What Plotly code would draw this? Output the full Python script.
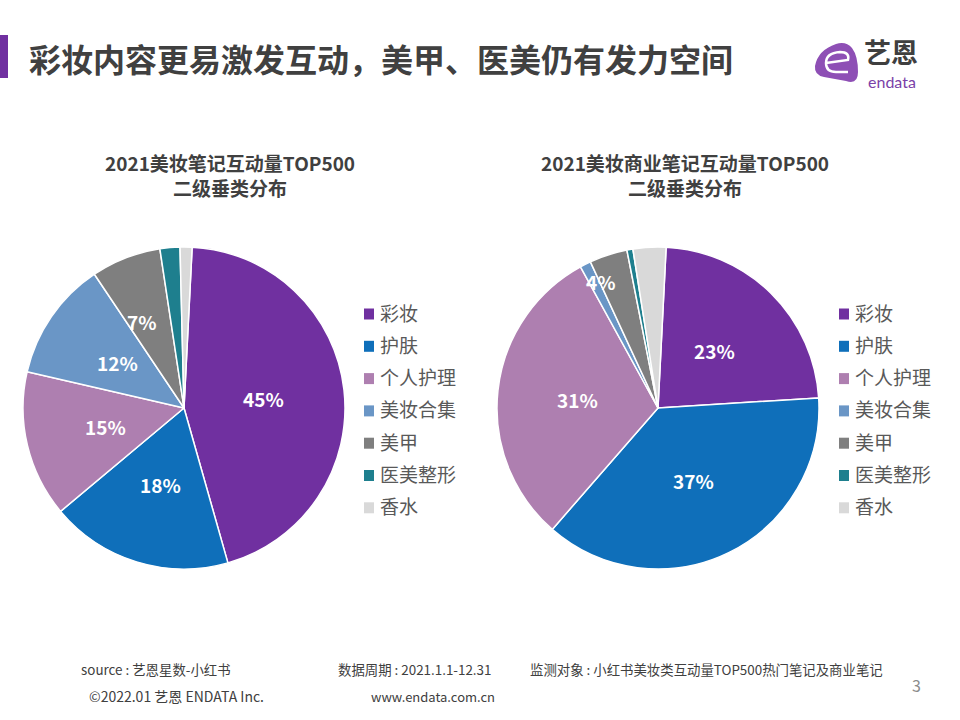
import math
import plotly.graph_objects as go

# Values (percent).
categories = ["彩妆", "护肤", "个人护理", "美妆合集", "美甲", "医美整形", "香水"]
colors = ["#7030A0", "#0F6FBA", "#AE7FB0", "#6A96C6", "#7F7F7F", "#1E7F8E", "#D9D9D9"]
left_values = [44.8, 18.3, 14.7, 12.0, 7.0, 2.0, 1.2]
right_values = [23.2, 37.4, 30.6, 1.1, 3.8, 0.6, 3.3]
left_text = ["45%", "18%", "15%", "12%", "7%", "", ""]
right_text = ["23%", "37%", "31%", "", "4%", "", ""]
left_title = "2021美妆笔记互动量TOP500<br>二级垂类分布"
right_title = "2021美妆商业笔记互动量TOP500<br>二级垂类分布"

W, H = 960, 720
FONT = "Noto Sans CJK SC"
GREY = "#404040"
ROTATION = 2.9
RADIUS = 161


def px(x):
    return x / W


def py(y):
    return 1 - y / H


def note(fig, x, y, text, size, color=GREY, anchor="left", bold=False, family=FONT):
    fig.add_annotation(
        x=px(x), y=py(y), xref="paper", yref="paper", text=text, showarrow=False,
        xanchor=anchor, yanchor="middle", align="center",
        font=dict(family=family, size=size, color=color, weight="bold" if bold else "normal"),
    )


def add_pie(fig, values, text, cx, moved):
    fig.add_trace(go.Pie(
        labels=categories, values=values, textinfo="none",
        sort=False, direction="clockwise", rotation=ROTATION,
        marker=dict(colors=colors, line=dict(color="white", width=1.5)),
        domain=dict(x=[px(cx - RADIUS), px(cx + RADIUS)], y=[py(408 + RADIUS), py(408 - RADIUS)]),
        showlegend=False,
    ))
    # labels sit half way out along each slice, a couple were dragged by hand
    start = ROTATION
    total = sum(values)
    for value, label in zip(values, text):
        mid = math.radians(start + value / total * 180)
        start += value / total * 360
        if label:
            dx, dy = moved.get(label, (0, 0))
            note(fig, cx + 0.5 * RADIUS * math.sin(mid) + dx, 408 - 0.5 * RADIUS * math.cos(mid) + dy,
                 label, 19, color="white", anchor="center", bold=True)


def add_legend(fig, x):
    for i, name in enumerate(categories):
        y = 312 + i * 32.3
        fig.add_shape(type="rect", xref="paper", yref="paper",
                      x0=px(x), x1=px(x + 10), y0=py(y - 3.5), y1=py(y + 7.5),
                      fillcolor=colors[i], line_width=0)
        note(fig, x + 14, y, name, 19, color="#595959")


def logo_path(points):
    parts = []
    for cmd, *xy in points:
        coords = [f"{px(xy[k])} {py(xy[k + 1])}" for k in range(0, len(xy), 2)]
        parts.append(cmd + " " + " ".join(coords))
    return " ".join(parts)


fig = go.Figure()
add_pie(fig, left_values, left_text, 184, {"7%": (-13, -11)})
add_pie(fig, right_values, right_text, 658, {"4%": (-32, -50)})
add_legend(fig, 364)
add_legend(fig, 839)

# header
fig.add_shape(type="rect", xref="paper", yref="paper", x0=0, x1=px(8), y0=py(78), y1=py(35),
              fillcolor="#7030A0", line_width=0)
note(fig, 27, 58, "彩妆内容更易激发互动，美甲、医美仍有发力空间", 32, bold=True)
note(fig, 230, 175, left_title, 19, anchor="center", bold=True)
note(fig, 685, 175, right_title, 19, anchor="center", bold=True)

# logo
fig.add_shape(type="path", xref="paper", yref="paper",
              path=logo_path([("M", 815, 66), ("Q", 818, 50, 836, 44), ("Q", 846, 41, 852, 48),
                              ("Q", 858, 56, 858, 72), ("Q", 858, 85, 846, 81),
                              ("L", 824, 77), ("Q", 814, 75, 815, 66), ("Z",)]),
              fillcolor="#8E4FB5", line_width=0)
fig.add_shape(type="path", xref="paper", yref="paper",
              path=logo_path([("M", 826, 63), ("L", 848, 60), ("Q", 850, 52, 840, 52),
                              ("Q", 826, 53, 826, 63), ("Q", 826, 72, 836, 72), ("L", 848, 72)]),
              line=dict(color="white", width=2.5))
note(fig, 891, 52, "艺恩", 27, color="#3F3F3F", anchor="center", bold=True)
note(fig, 892, 81, "endata", 16, color="#7A3FA8", anchor="center", family="Lato")

# footer
note(fig, 79, 669, "source : 艺恩星数-小红书", 13.4)
note(fig, 336, 669, "数据周期 : 2021.1.1-12.31", 13.4)
note(fig, 528, 669, "监测对象 : 小红书美妆类互动量TOP500热门笔记及商业笔记", 13.4)
note(fig, 87, 696, "©2022.01 艺恩 ENDATA Inc.", 14)
note(fig, 369, 696, "www.endata.com.cn", 13)
note(fig, 916, 685, "3", 16, color="#8C8C8C", anchor="center")

fig.update_layout(width=W, height=H, margin=dict(l=0, r=0, t=0, b=0),
                  paper_bgcolor="white", showlegend=False)
fig.write_html("out.html", config={"displayModeBar": False},
               post_script="document.body.style.margin = '0';")
